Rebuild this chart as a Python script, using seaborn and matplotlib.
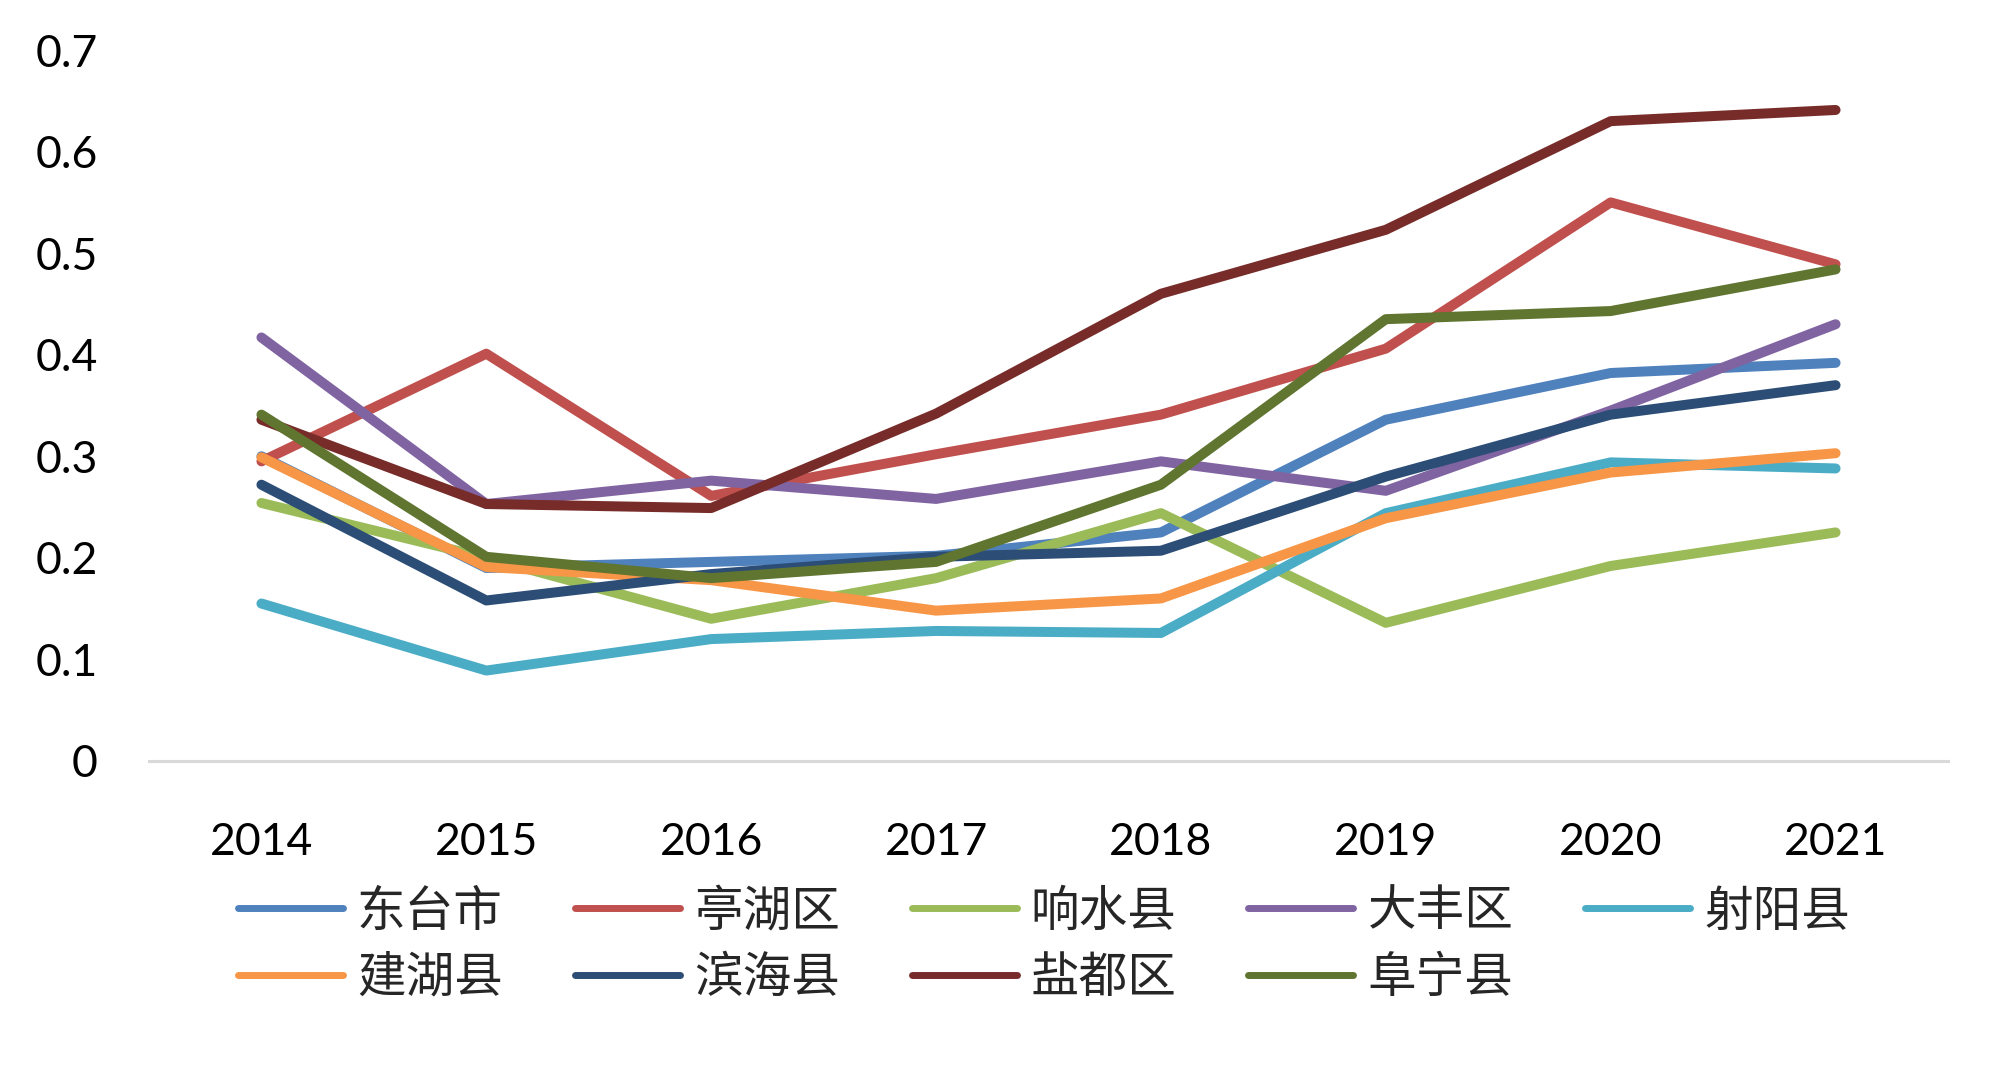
import matplotlib
matplotlib.use("Agg")
import matplotlib.pyplot as plt
import pandas as pd
import seaborn as sns

years = [2014, 2015, 2016, 2017, 2018, 2019, 2020, 2021]

regions = ["东台市", "亭湖区", "响水县", "大丰区", "射阳县",
           "建湖县", "滨海县", "盐都区", "阜宁县"]

dongtai = [0.300, 0.190, 0.196, 0.202, 0.225, 0.336, 0.382, 0.392]
tinghu = [0.295, 0.401, 0.261, 0.302, 0.341, 0.406, 0.550, 0.489]
xiangshui = [0.254, 0.200, 0.140, 0.180, 0.244, 0.136, 0.192, 0.225]
dafeng = [0.417, 0.253, 0.276, 0.258, 0.295, 0.266, 0.345, 0.430]
sheyang = [0.155, 0.089, 0.120, 0.128, 0.126, 0.244, 0.294, 0.288]
jianhu = [0.299, 0.191, 0.178, 0.148, 0.160, 0.239, 0.284, 0.303]
binhai = [0.272, 0.158, 0.184, 0.201, 0.207, 0.280, 0.341, 0.370]
yandu = [0.336, 0.253, 0.249, 0.342, 0.460, 0.523, 0.630, 0.641]
funing = [0.341, 0.201, 0.180, 0.196, 0.272, 0.435, 0.443, 0.484]

colors = ["#4F81BD", "#C0504D", "#9BBB59", "#8064A2", "#4BACC6",
          "#F79646", "#2C4D75", "#772C2A", "#5F7530"]

series = [dongtai, tinghu, xiangshui, dafeng, sheyang, jianhu, binhai, yandu, funing]
rows = []
for name, vals in zip(regions, series):
    for y, v in zip(years, vals):
        rows.append({"year": y, "value": v, "region": name})
df = pd.DataFrame(rows)

sns.set_style("white")
plt.rcParams["font.family"] = ["Lato", "Noto Sans CJK SC", "DejaVu Sans"]

fig = plt.figure(figsize=(20, 10.65), dpi=100)
ax = fig.add_axes([0.0745, 0.2855, 0.8995, 0.6675])

sns.lineplot(data=df, x="year", y="value", hue="region", hue_order=regions,
             palette=colors, linewidth=7.2, ax=ax, legend=False,
             solid_capstyle="round", solid_joinstyle="round")

ax.set_xlim(2013.5, 2021.5)
ax.set_ylim(0, 0.7)
ax.set_xticks(years)
ax.set_xticklabels([str(y) for y in years])
ax.set_yticks([0, 0.1, 0.2, 0.3, 0.4, 0.5, 0.6, 0.7])
ax.set_yticklabels(["0", "0.1", "0.2", "0.3", "0.4", "0.5", "0.6", "0.7"])
ax.set_xlabel("")
ax.set_ylabel("")
ax.tick_params(axis="x", length=0, pad=44, labelsize=32, labelcolor="black")
ax.tick_params(axis="y", length=0, pad=37, labelsize=32, labelcolor="black")
for s in ["top", "left", "right"]:
    ax.spines[s].set_visible(False)
ax.spines["bottom"].set_color("#D9D9D9")
ax.spines["bottom"].set_linewidth(2.2)
ax.grid(False)

# legend filled column by column, so reorder to read row by row
handles = [plt.Line2D([], [], color=c, linewidth=5, solid_capstyle="round") for c in colors]
order = [0, 5, 1, 6, 2, 7, 3, 8, 4]
fig.legend([handles[i] for i in order], [regions[i] for i in order],
           loc="upper center", bbox_to_anchor=(0.522, 0.19), ncol=5,
           frameon=False, handlelength=2.16, handletextpad=0.29,
           columnspacing=1.48, labelspacing=0.35, borderpad=0,
           prop={"family": ["Noto Sans CJK SC"], "size": 35})

fig.savefig("out.png", dpi=100)
plt.close(fig)
